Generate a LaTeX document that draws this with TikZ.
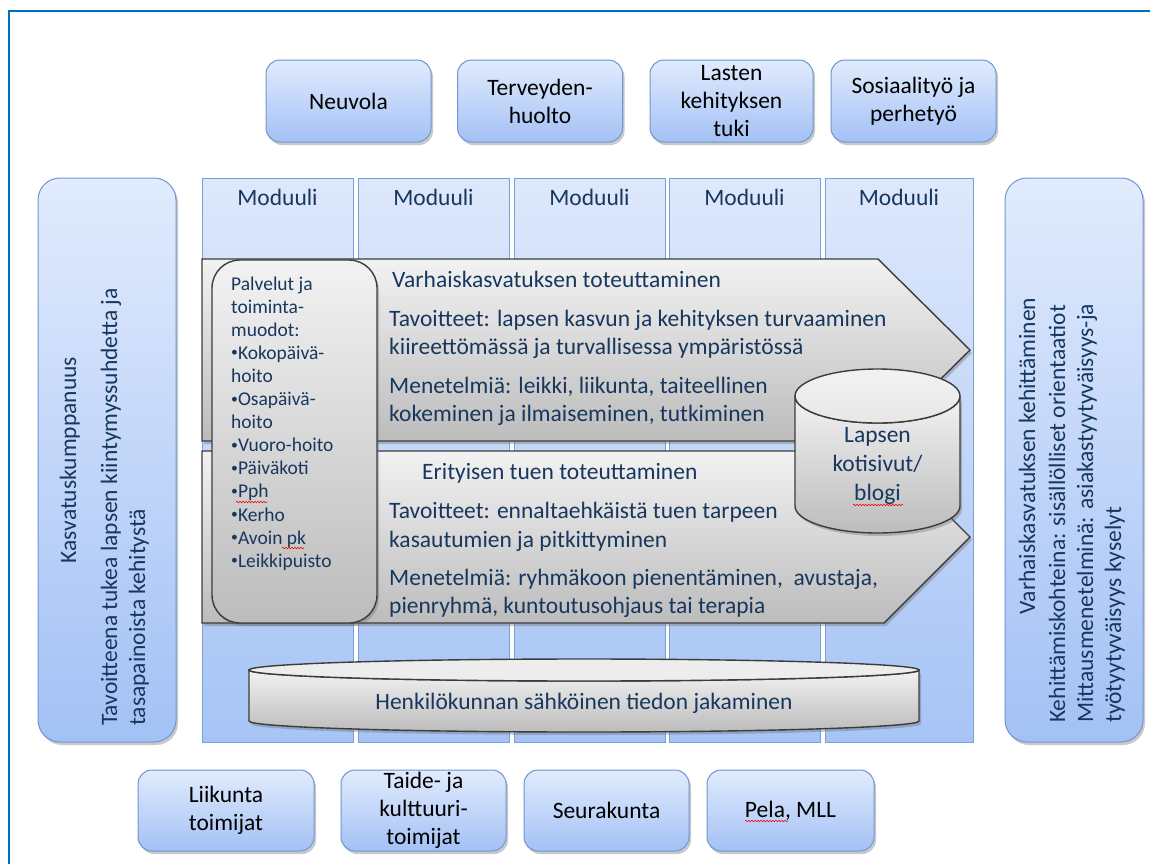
\documentclass[tikz,border=0pt]{standalone}
\usepackage{fontspec}
\setmainfont{Carlito}
\usetikzlibrary{shadows,decorations.pathmorphing}

\definecolor{navy}{RGB}{23,55,94}
\definecolor{frameblue}{RGB}{0,112,192}
\definecolor{bluetop}{RGB}{225,235,253}
\definecolor{bluebot}{RGB}{163,193,245}
\definecolor{blueedge}{RGB}{110,150,210}
\definecolor{coltop}{RGB}{222,232,252}
\definecolor{colbot}{RGB}{166,196,245}
\definecolor{coledge}{RGB}{120,160,215}
\definecolor{graytop}{RGB}{242,242,242}
\definecolor{graybot}{RGB}{188,188,188}
\definecolor{grayedge}{RGB}{60,60,60}

\newcommand\mybul{\raisebox{0.12em}{\scalebox{0.7}{•}}}

\tikzset{
  shad/.style={drop shadow={shadow xshift=2pt, shadow yshift=-3pt, opacity=0.35, fill=black!60}},
  bluebox/.style={draw=blueedge, line width=1pt, rounded corners=14pt,
    top color=bluetop, bottom color=bluebot, shad, text=black, align=center,
    font=\fontsize{23.5}{28}\selectfont, inner sep=0pt},
  tallbox/.style={bluebox, rounded corners=22pt},
  modcol/.style={draw=coledge, line width=0.8pt, top color=coltop, bottom color=colbot},
  grayshape/.style={draw=grayedge, line width=1.4pt, top color=graytop, bottom color=graybot, shad},
  txt/.style={text=navy, font=\fontsize{23.5}{28}\selectfont, inner sep=0pt},
  listtxt/.style={text=navy, font=\fontsize{19.5}{23.1}\selectfont, inner sep=0pt, anchor=base west},
  vtxt/.style={txt, rotate=90},
  squig/.style={draw=red, line width=0.6pt, decorate, decoration={snake, amplitude=0.7pt, segment length=3pt}},
}

\begin{document}
\begin{tikzpicture}[x=1pt, y=-1pt]
\path[clip] (0,0) rectangle (1150,863);
\fill[white] (0,0) rectangle (1150,863);
\draw[frameblue, line width=2pt] (9,11) rectangle (1170,890);

% top boxes
\node[bluebox, minimum width=165pt, minimum height=82pt] (neuvola) at (348.5,101) {Neuvola};
\node[bluebox, minimum width=165pt, minimum height=82pt] (terv) at (540,101) {Terveyden-\\huolto};
\node[bluebox, minimum width=163pt, minimum height=82pt] (lasten) at (731.5,101) {Lasten\\kehityksen\\tuki};
\node[bluebox, minimum width=165pt, minimum height=82pt] (sosiaali) at (913.5,101) {Sosiaalityö ja\\perhetyö};

% bottom boxes
\node[bluebox, minimum width=176pt, minimum height=81pt] (liikunta) at (226,810.5) {Liikunta\\toimijat};
\node[bluebox, minimum width=165pt, minimum height=81pt] (taide) at (423.5,810.5) {Taide- ja\\kulttuuri-\\toimijat};
\node[bluebox, minimum width=165pt, minimum height=81pt] (seura) at (606.5,810.5) {Seurakunta};
\node[bluebox, minimum width=167pt, minimum height=81pt] (pela) at (790.5,810.5) {Pela, MLL};

% tall side boxes
\node[tallbox, minimum width=138pt, minimum height=564pt] (leftbox) at (107,460) {};
\node[tallbox, minimum width=138pt, minimum height=564pt] (rightbox) at (1074,460) {};

\node[vtxt, anchor=base] (l1) at (76,460) {Kasvatuskumppanuus};
\node[vtxt, anchor=base west] (l2) at (117,726) {Tavoitteena tukea lapsen kiintymyssuhdetta ja};
\node[vtxt, anchor=base west] (l3) at (145,726) {tasapainoista kehitystä};

\node[vtxt, anchor=base] (r1) at (1035,456) {Varhaiskasvatuksen kehittäminen};
\node[vtxt, anchor=base west] (r2) at (1065,723) {Kehittämiskohteina: sisällölliset orientaatiot};
\node[vtxt, anchor=base west] (r3) at (1093,723) {Mittausmenetelminä: asiakastyytyväisyys-ja};
\node[vtxt, anchor=base west] (r4) at (1121,723) {työtyytyväisyys kyselyt};

% module columns
\foreach \xa/\xb/\n in {202/353/1, 358/509/2, 514/665/3, 669/820/4, 825/973/5}{
  \path[modcol] (\xa,178) rectangle (\xb,742);
  \node[txt, anchor=base] (mod\n) at ({(\xa+\xb)/2},205) {Moduuli};
}

% arrows
\path[grayshape] (202,259) -- (878,259) -- (970,350) -- (878,441) -- (202,441) -- cycle;
\path[grayshape] (202,451) -- (884,451) -- (970,537) -- (884,623) -- (202,623) -- cycle;

\node[txt, anchor=base west] (a1) at (392,287) {Varhaiskasvatuksen toteuttaminen};
\node[txt, anchor=base west] (a2) at (389,326) {Tavoitteet: lapsen kasvun ja kehityksen turvaaminen};
\node[txt, anchor=base west] (a3) at (389,354) {kiireettömässä ja turvallisessa ympäristössä};
\node[txt, anchor=base west] (a4) at (389,393) {Menetelmiä: leikki, liikunta, taiteellinen};
\node[txt, anchor=base west] (a5) at (389,421) {kokeminen ja ilmaiseminen, tutkiminen};

\node[txt, anchor=base west] (b1) at (422,479) {Erityisen tuen toteuttaminen};
\node[txt, anchor=base west] (b2) at (389,518) {Tavoitteet: ennaltaehkäistä tuen tarpeen};
\node[txt, anchor=base west] (b3) at (389,547) {kasautumien ja pitkittyminen};
\node[txt, anchor=base west] (b4) at (389,585) {Menetelmiä: ryhmäkoon pienentäminen,\ \ avustaja,};
\node[txt, anchor=base west] (b5) at (389,613) {pienryhmä, kuntoutusohjaus tai terapia};

% list box
\path[grayshape, rounded corners=28pt] (212,260) rectangle (377,623);
\foreach \t [count=\i from 0] in {Palvelut ja, toiminta-, muodot:, \mybul Kokopäivä-, hoito, \mybul Osapäivä-, hoito, \mybul Vuoro-hoito, \mybul Päiväkoti, \mybul Pph, \mybul Kerho, \mybul Avoin pk, \mybul Leikkipuisto}{
  \node[listtxt] (li\i) at (231,{290+23.1*\i}) {\t};
}
\draw[squig] (236,502) -- (267,502);
\draw[squig] (282,548) -- (304,548);

% cylinder
\path[grayshape] (795,396) -- (795,506) arc[start angle=180, end angle=360, x radius=82.5pt, y radius=27pt]
  -- (960,396) arc[start angle=360, end angle=180, x radius=82.5pt, y radius=27pt] -- cycle;
\path[draw=grayedge, line width=1.4pt, top color=graytop, bottom color=graytop!80!graybot] (877.5,396) ellipse[x radius=82.5pt, y radius=27pt];
\node[txt, align=center, font=\fontsize{23.5}{29}\selectfont] (cyl) at (877.5,466) {Lapsen\\kotisivut/\\blogi};
\draw[squig] (853,505) -- (903,505);

% flat cylinder
\path[grayshape] (249,670) -- (249,721) arc[start angle=180, end angle=360, x radius=335pt, y radius=11pt]
  -- (919,670) arc[start angle=360, end angle=180, x radius=335pt, y radius=11pt] -- cycle;
\path[draw=grayedge, line width=1.4pt, fill=graytop!90!graybot] (584,670) ellipse[x radius=335pt, y radius=11pt];
\node[txt] (henk) at (584,703) {Henkilökunnan sähköinen tiedon jakaminen};

\draw[squig] (745,821) -- (788,821);
\end{tikzpicture}
\end{document}
